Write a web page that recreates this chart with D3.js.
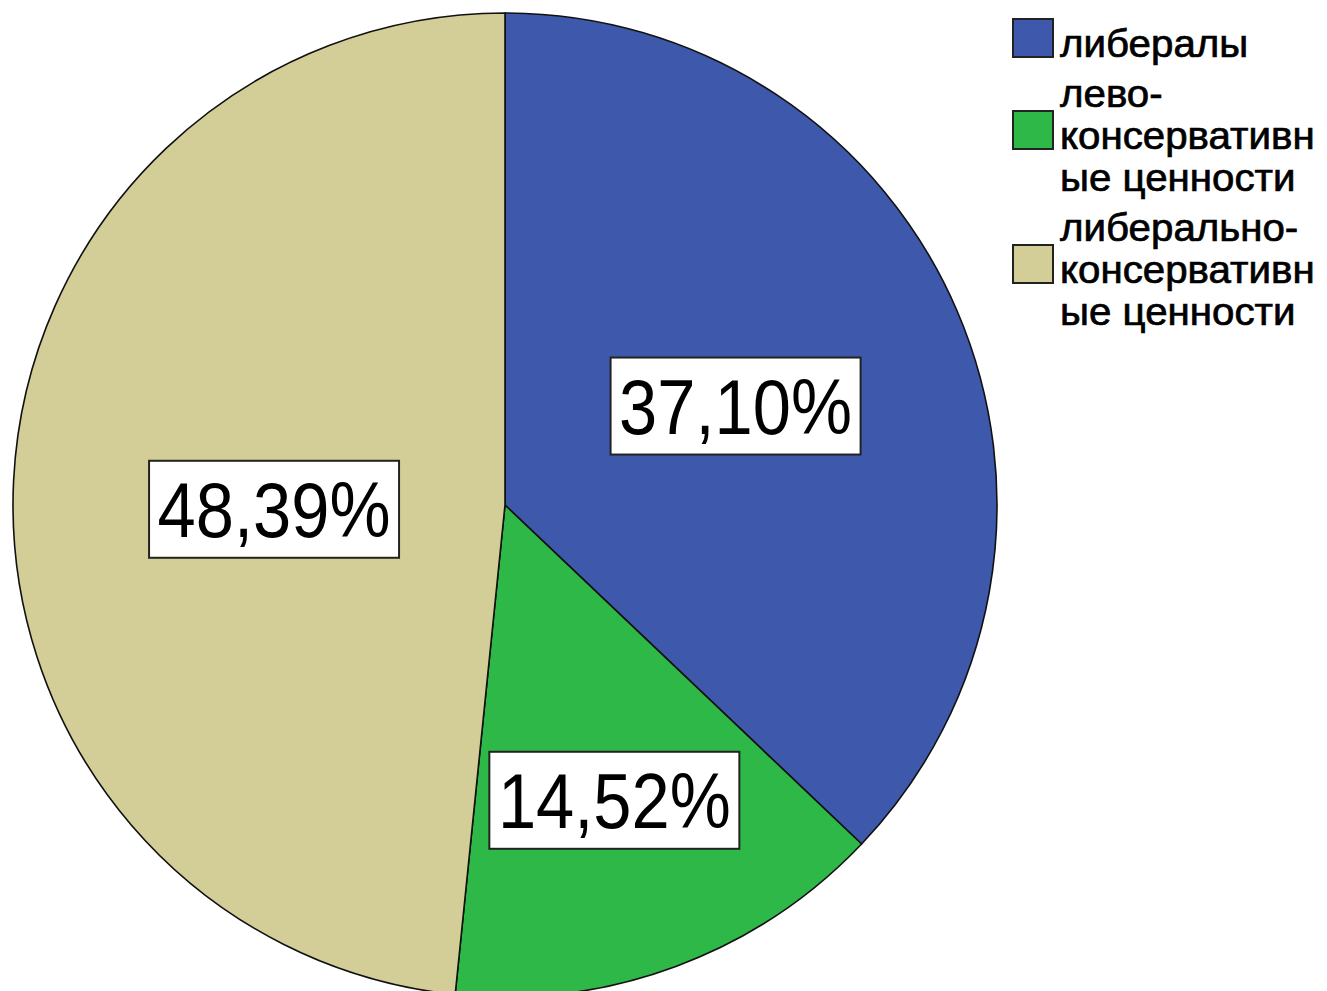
<!DOCTYPE html>
<html>
<head>
<meta charset="utf-8">
<script src="https://cdn.jsdelivr.net/npm/d3@7"></script>
<style>
  html, body { margin: 0; padding: 0; background: #ffffff; }
  svg { display: block; }
</style>
</head>
<body>
<svg id="chart" width="1327" height="991"></svg>
<script>
// ---- data ----
const categories = ["либералы", "лево-консервативные ценности", "либерально-консервативные ценности"];
const percentages = [37.10, 14.52, 48.39];
const valueLabels = ["37,10%", "14,52%", "48,39%"];
const legendLines = [["либералы"], ["лево-", "консервативн", "ые ценности"], ["либерально-", "консервативн", "ые ценности"]];
const colors = ["#3e58ab", "#2eb848", "#d3ce97"];

// ---- layout ----
const W = 1327, H = 991;
const cx = 505, cy = 505, R = 492;
const labelRadiusFrac = [0.51, 0.64, 0.47];
const font = "'Liberation Sans', Arial, Helvetica, sans-serif";

const svg = d3.select("#chart");
const data = categories.map((c, i) => ({ name: c, value: percentages[i], label: valueLabels[i], color: colors[i], idx: i }));

const pie = d3.pie().value(d => d.value).sort(null);
const arcs = pie(data);
const arc = d3.arc().innerRadius(0).outerRadius(R);

const g = svg.append("g").attr("transform", `translate(${cx},${cy})`);
g.selectAll("path.slice")
  .data(arcs)
  .enter().append("path")
  .attr("class", "slice")
  .attr("d", arc)
  .attr("fill", d => d.data.color)
  .attr("stroke", "#111")
  .attr("stroke-width", 1.6)
  .attr("stroke-linejoin", "round");

// labels
const boxW = 250, boxH = 97;
const lab = g.selectAll("g.lab")
  .data(arcs)
  .enter().append("g")
  .attr("class", "lab")
  .attr("transform", d => {
    const r = R * labelRadiusFrac[d.data.idx];
    const a = d3.arc().innerRadius(r).outerRadius(r);
    const [x, y] = a.centroid(d);
    return `translate(${x},${y + (d.data.idx === 2 ? 16 : 0)})`;
  });
lab.append("rect")
  .attr("x", -boxW / 2).attr("y", -boxH / 2)
  .attr("width", boxW).attr("height", boxH)
  .attr("fill", "#ffffff")
  .attr("stroke", "#222")
  .attr("stroke-width", 2);
lab.append("text")
  .attr("transform", "scale(1,1.12)")
  .attr("y", 27.5 / 1.12)
  .attr("text-anchor", "middle")
  .attr("font-family", font)
  .attr("font-size", 68.7)
  .attr("fill", "#000")
  .text(d => d.data.label);

// legend
const legX = 1013, textX = 1060, sw = 40, sh = 38;
const lineH = 42, itemGap = 50;
let base = 57;
const legend = svg.append("g");
data.forEach((d, i) => {
  const lines = legendLines[i];
  const baselines = lines.map((l, k) => base + k * lineH);
  const mid = baselines[Math.floor(lines.length / 2)];
  legend.append("rect")
    .attr("x", legX).attr("y", mid - 38)
    .attr("width", sw).attr("height", sh)
    .attr("fill", d.color)
    .attr("stroke", "#222")
    .attr("stroke-width", 2);
  lines.forEach((l, k) => {
    legend.append("text")
      .attr("transform", `translate(${textX},${baselines[k]}) scale(1.06,1)`)
      .attr("font-family", font)
      .attr("font-size", 38)
      .attr("fill", "#000")
      .attr("stroke", "#000")
      .attr("stroke-width", 0.7)
      .text(l);
  });
  base = baselines[baselines.length - 1] + itemGap;
});
</script>
</body>
</html>
